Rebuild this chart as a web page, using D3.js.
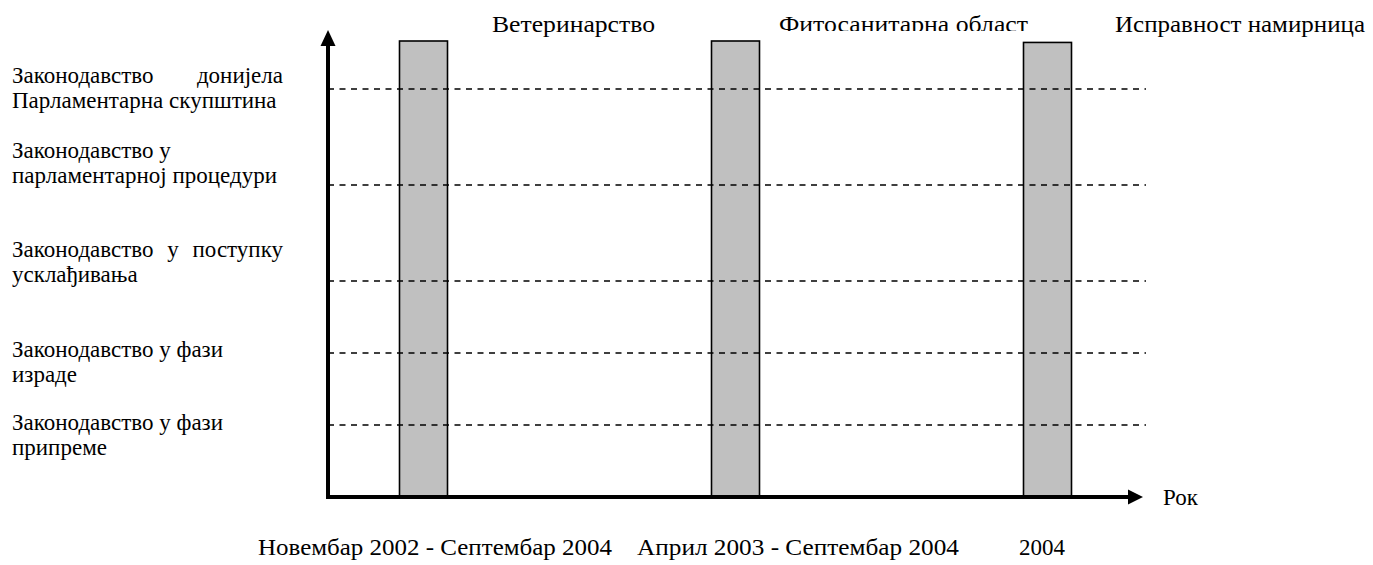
<!DOCTYPE html>
<html>
<head>
<meta charset="utf-8">
<script src="https://cdn.jsdelivr.net/npm/d3@7"></script>
<style>
  html, body { margin: 0; padding: 0; background: #fff; }
  svg text { font-family: "Liberation Serif", "Times New Roman", serif; fill: #000; }
</style>
</head>
<body>
<svg id="chart" width="1373" height="565"></svg>
<script>
// ---- data ----
const areas = ["Ветеринарство", "Фитосанитарна област", "Исправност намирница"];
const periods = ["Новембар 2002 - Септембар 2004", "Април 2003 - Септембар 2004", "2004"];
const barValues = [6.33, 6.33, 6.31];
const stageLevels = [1, 2, 3, 4.33, 5.67];
const stageLines = [
  ["Законодавство у фази", "припреме"],
  ["Законодавство у фази", "израде"],
  ["Законодавство у поступку", "усклађивања"],
  ["Законодавство у", "парламентарној процедури"],
  ["Законодавство донијела", "Парламентарна скупштина"]
];
const stageJustified = [false, false, true, false, true];
const axisTitle = "Рок";

// ---- layout ----
const W = 1373, H = 565;
const fontSize = 22.5;
const labelFont = 23;
const svg = d3.select("#chart");

const y = d3.scaleLinear().domain([0, 6.33]).range([497, 41]);
const x = d3.scaleLinear().domain([0, 2]).range([423.5, 1047.5]);
const barW = 48;
const axisX = 328, axisYEnd = 1128;
const yTop = 30;

// stage label baseline offsets (relative to the dashed line) -- layout only
const labelOffsets = [5, 4, -24, -27, -6];
const labelLeft = 12, labelRight = 283, lineGap = 25;

// top label starts / widths and bottom label starts / widths (layout only)
const areaStarts = [492, 779, 1115];
const areaWidths = [163, 249, 250];
const periodStarts = [258, 637, 1019];
const periodWidths = [354, 322, 46];

// bars
svg.append("g").selectAll("rect").data(barValues).join("rect")
  .attr("x", (d, i) => x(i) - barW / 2)
  .attr("width", barW)
  .attr("y", d => y(d))
  .attr("height", d => y(0) - y(d))
  .attr("fill", "#c0c0c0")
  .attr("stroke", "#000").attr("stroke-width", 1.6);

// dashed level lines (drawn over the bars)
svg.append("g").selectAll("line").data(stageLevels).join("line")
  .attr("x1", axisX).attr("x2", 1146)
  .attr("y1", d => Math.round(y(d))).attr("y2", d => Math.round(y(d)))
  .attr("stroke", "#000").attr("stroke-width", 1.6)
  .attr("stroke-dasharray", "6,5.5");

// axes
svg.append("line").attr("x1", axisX).attr("x2", axisX)
  .attr("y1", y(0) + 2).attr("y2", yTop + 14)
  .attr("stroke", "#000").attr("stroke-width", 4);
svg.append("path")
  .attr("d", `M${axisX},${yTop} L${axisX - 7.5},${yTop + 16} L${axisX + 7.5},${yTop + 16} Z`)
  .attr("fill", "#000");
svg.append("line").attr("x1", axisX - 2).attr("x2", axisYEnd + 2)
  .attr("y1", y(0)).attr("y2", y(0))
  .attr("stroke", "#000").attr("stroke-width", 4);
svg.append("path")
  .attr("d", `M${axisYEnd + 15},${y(0)} L${axisYEnd},${y(0) - 7.5} L${axisYEnd},${y(0) + 7.5} Z`)
  .attr("fill", "#000");

svg.append("text").attr("x", 1163).attr("y", y(0) + 8)
  .attr("font-size", labelFont).text(axisTitle);

// stage labels
const lg = svg.append("g").attr("font-size", labelFont);
stageLines.forEach((lines, i) => {
  const base = y(stageLevels[i]) + labelOffsets[i];
  lines.forEach((ln, j) => {
    const by = base + j * lineGap;
    if (stageJustified[i] && j === 0) {
      const words = ln.split(" ");
      const nodes = words.map(w => lg.append("text").attr("y", by).text(w));
      const widths = nodes.map(n => n.node().getComputedTextLength());
      const total = d3.sum(widths);
      const gap = (labelRight - labelLeft - total) / (words.length - 1);
      let cx = labelLeft;
      nodes.forEach((n, k) => { n.attr("x", cx); cx += widths[k] + gap; });
    } else {
      lg.append("text").attr("x", labelLeft).attr("y", by).text(ln);
    }
  });
});

// top area labels (second one clipped at its baseline, as in the original)
svg.append("defs").append("clipPath").attr("id", "clipTop")
  .append("rect").attr("x", 0).attr("y", 0).attr("width", W).attr("height", 31);
svg.append("g").attr("font-size", fontSize).selectAll("text").data(areas).join("text")
  .attr("x", (d, i) => areaStarts[i])
  .attr("y", 32)
  .attr("textLength", (d, i) => areaWidths[i])
  .attr("lengthAdjust", "spacingAndGlyphs")
  .attr("clip-path", (d, i) => i === 1 ? "url(#clipTop)" : null)
  .text(d => d);

// bottom period labels
svg.append("g").attr("font-size", fontSize).selectAll("text").data(periods).join("text")
  .attr("x", (d, i) => periodStarts[i])
  .attr("y", 555)
  .attr("textLength", (d, i) => periodWidths[i])
  .attr("lengthAdjust", "spacingAndGlyphs")
  .text(d => d);
</script>
</body>
</html>
